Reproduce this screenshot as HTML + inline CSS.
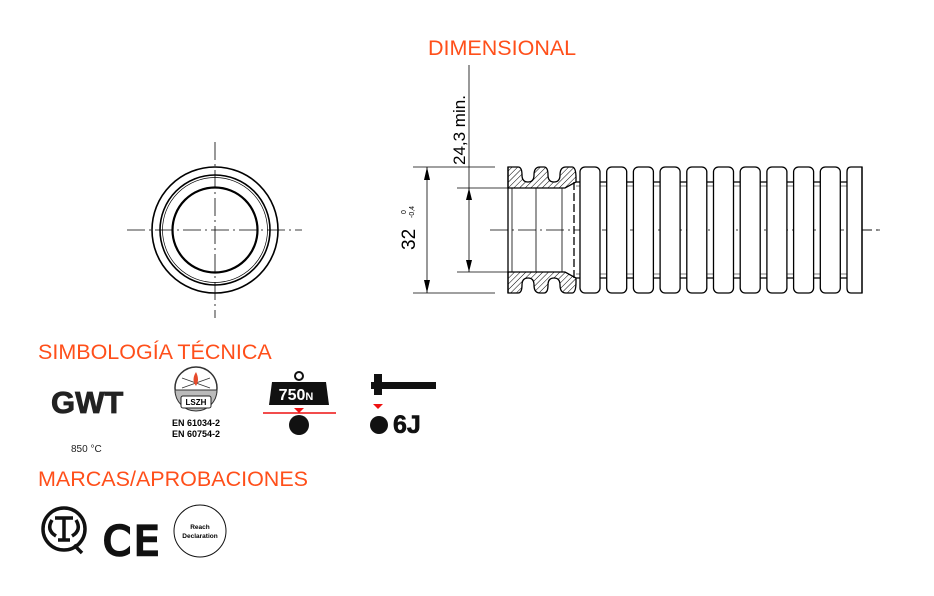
<!DOCTYPE html>
<html><head><meta charset="utf-8"><style>
body{margin:0;background:#fff;width:934px;height:596px;overflow:hidden}
svg{display:block}
</style></head><body>
<svg width="934" height="596" viewBox="0 0 934 596" xmlns="http://www.w3.org/2000/svg" font-family="Liberation Sans, sans-serif">
<defs>
<pattern id="h" width="4" height="4" patternUnits="userSpaceOnUse" patternTransform="rotate(45)"><line x1="0" y1="0" x2="0" y2="4" stroke="#000" stroke-width="1"/></pattern>
</defs>
<text x="428" y="55" font-size="21.5" fill="#ff4f1a">DIMENSIONAL</text>
<text x="38" y="359" font-size="21.5" fill="#ff4f1a">SIMBOLOGÍA TÉCNICA</text>
<text x="38" y="486" font-size="21.5" fill="#ff4f1a">MARCAS/APROBACIONES</text>

<g fill="none" stroke="#000">
<circle cx="215" cy="230" r="63" stroke-width="1.6"/>
<circle cx="215" cy="230" r="55" stroke-width="1.6"/>
<circle cx="215" cy="230" r="52.5" stroke-width="0.7"/>
<circle cx="215" cy="230" r="42.5" stroke-width="2.2"/>
<line x1="127" y1="230" x2="302" y2="230" stroke-width="0.8" stroke-dasharray="18,4,2,4"/>
<line x1="215" y1="142" x2="215" y2="318" stroke-width="0.8" stroke-dasharray="18,4,2,4"/>
</g>

<g stroke="#000" fill="none" stroke-width="0.8">
<line x1="413" y1="167" x2="495" y2="167"/>
<line x1="413" y1="293" x2="495" y2="293"/>
<line x1="427" y1="167" x2="427" y2="293"/>
<line x1="457" y1="188" x2="512" y2="188"/>
<line x1="457" y1="272" x2="512" y2="272"/>
<line x1="469" y1="65" x2="469" y2="272"/>
<line x1="490" y1="230" x2="880" y2="230" stroke-dasharray="18,4,2,4"/>
</g>
<g fill="#000">
<polygon points="427,167 424,180 430,180"/><polygon points="427,293 424,280 430,280"/>
<polygon points="469,188 466,200 472,200"/><polygon points="469,272 466,260 472,260"/>
</g>
<text transform="translate(465,165) rotate(-90)" font-size="17">24,3 min.</text>
<text transform="translate(415,250) rotate(-90)" font-size="19">32</text>
<text transform="translate(406,214) rotate(-90)" font-size="7">0</text>
<text transform="translate(414,218) rotate(-90)" font-size="7">-0,4</text>

<g stroke="#000" stroke-width="1.3">
<path d="M508,167 H518 Q522,167 522,175 Q522,182 528,182 Q534,182 534,175 Q534,167 540,167 H544 Q548,167 548,175 Q548,182 554,182 Q560,182 560,175 Q560,167 566,167 H572 Q576,167 576,178 L576,182 L565,188 H508 Z" fill="url(#h)"/>
<path d="M508,293 H518 Q522,293 522,285 Q522,278 528,278 Q534,278 534,285 Q534,293 540,293 H544 Q548,293 548,285 Q548,278 554,278 Q560,278 560,285 Q560,293 566,293 H572 Q576,293 576,282 L576,278 L565,272 H508 Z" fill="url(#h)"/>
<g fill="none">
<line x1="508" y1="167" x2="508" y2="293"/>
<line x1="512" y1="188" x2="512" y2="272" stroke-width="0.8"/>
<line x1="536" y1="188" x2="536" y2="272" stroke-width="0.8"/>
<line x1="562" y1="188" x2="562" y2="272" stroke-width="0.8"/>
<line x1="574" y1="182" x2="574" y2="278" stroke-dasharray="8,3"/>
</g>
</g>
<g stroke="#000" stroke-width="1.3" fill="#fff">
<line x1="576" y1="182" x2="862" y2="182"/>
<line x1="576" y1="278" x2="862" y2="278"/>
<line x1="576" y1="186" x2="862" y2="186" stroke-width="0.6"/>
<line x1="576" y1="274" x2="862" y2="274" stroke-width="0.6"/>
<rect x="580" y="167" width="20" height="126" rx="5"/>
<rect x="606.7" y="167" width="20" height="126" rx="5"/>
<rect x="633.4" y="167" width="20" height="126" rx="5"/>
<rect x="660.1" y="167" width="20" height="126" rx="5"/>
<rect x="686.8" y="167" width="20" height="126" rx="5"/>
<rect x="713.5" y="167" width="20" height="126" rx="5"/>
<rect x="740.2" y="167" width="20" height="126" rx="5"/>
<rect x="766.9" y="167" width="20" height="126" rx="5"/>
<rect x="793.6" y="167" width="20" height="126" rx="5"/>
<rect x="820.3" y="167" width="20" height="126" rx="5"/>
<path d="M862,167 H851 Q847,167 847,172 V288 Q847,293 851,293 H862 Z"/>
<line x1="862" y1="167" x2="862" y2="293"/>
</g>
<line x1="862" y1="230" x2="880" y2="230" stroke="#000" stroke-width="0.8" stroke-dasharray="10,4"/>

<text x="51" y="413" font-size="31" font-weight="bold" fill="#222" stroke="#222" stroke-width="0.8">GWT</text>
<text x="71" y="452" font-size="10" fill="#222">850 °C</text>

<circle cx="196" cy="388" r="21" fill="#fff" stroke="#333" stroke-width="1.5"/>
<path d="M175,390 A21,21 0 0 0 217,390 Z" fill="#bbb" stroke="#333" stroke-width="1"/>
<rect x="181" y="396" width="30" height="12" rx="2" fill="#fff" stroke="#222"/>
<text x="196" y="405" font-size="8" font-weight="bold" text-anchor="middle">LSZH</text>
<path d="M182,378 L210,388 M182,388 L210,378" stroke="#333" stroke-width="0.8"/>
<path d="M196,372 q-5,8 0,14 q4,-6 0,-14" fill="#e64a2a"/>
<text x="196" y="426" font-size="9" font-weight="bold" text-anchor="middle">EN 61034-2</text>
<text x="196" y="437" font-size="9" font-weight="bold" text-anchor="middle">EN 60754-2</text>

<circle cx="299" cy="376" r="4" fill="none" stroke="#111" stroke-width="2"/>
<polygon points="272,382 326,382 329,405 269,405" fill="#111"/>
<text x="296" y="400" font-size="16" font-weight="bold" fill="#fff" text-anchor="middle">750<tspan font-size="11">N</tspan></text>
<polygon points="294,408 304,408 299,413" fill="#e11"/>
<line x1="263" y1="413" x2="336" y2="413" stroke="#e11" stroke-width="1.5"/>
<circle cx="299" cy="425" r="10" fill="#111"/>

<rect x="371" y="382" width="65" height="7" fill="#111"/>
<rect x="374" y="374" width="8" height="21" fill="#111"/>
<polygon points="373,404 383,404 378,409" fill="#e11"/>
<circle cx="379" cy="425" r="9" fill="#111"/>
<text x="393" y="433" font-size="25" font-weight="bold" fill="#111" stroke="#111" stroke-width="0.6">6J</text>

<circle cx="64" cy="529" r="21" fill="none" stroke="#111" stroke-width="3.5"/>
<path d="M52,520 q-6,10 4,16 M76,520 q6,10 -4,16 M55,518 H73 M64,518 V540 M58,540 H70 M74,545 l8,8" fill="none" stroke="#111" stroke-width="3.5"/>
<text x="103" y="555" font-size="40" fill="#111" stroke="#111" stroke-width="2.5" font-family="DejaVu Sans, sans-serif">C</text>
<text x="134" y="555" font-size="40" fill="#111" stroke="#111" stroke-width="2.5" font-family="DejaVu Sans, sans-serif">E</text>
<circle cx="200" cy="531" r="26" fill="none" stroke="#111" stroke-width="1"/>
<text x="200" y="529" font-size="6.5" font-weight="bold" text-anchor="middle">Reach</text>
<text x="200" y="538" font-size="6.5" font-weight="bold" text-anchor="middle">Declaration</text>
</svg>
</body></html>
